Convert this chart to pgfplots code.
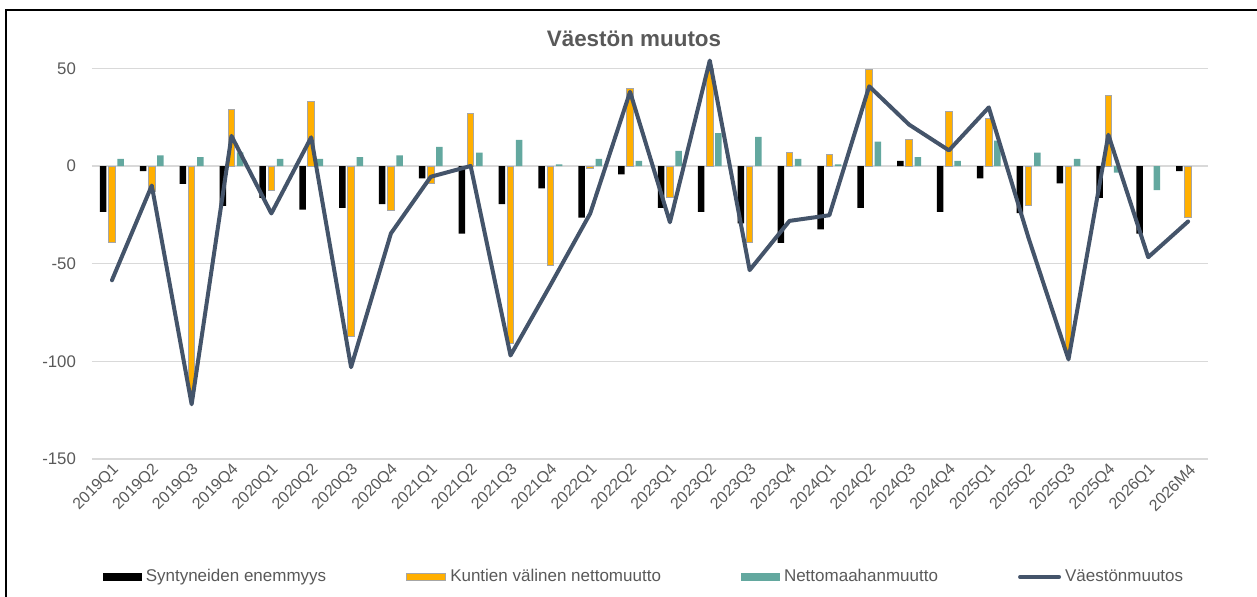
\documentclass[border=0pt]{standalone}
\usepackage{fontspec}
\setmainfont{Liberation Sans}
\usepackage{pgfplots}
\pgfplotsset{compat=1.18}
\definecolor{cBlack}{HTML}{000000}
\definecolor{cOrange}{HTML}{FFAF00}
\definecolor{cTeal}{HTML}{63A89F}
\definecolor{cLine}{HTML}{44546A}
\definecolor{cGrid}{HTML}{D9D9D9}
\definecolor{cText}{HTML}{595959}
\definecolor{cBorder}{HTML}{A6A6A6}
\begin{document}
\begin{tikzpicture}
\useasboundingbox (0,0) rectangle (628.5pt,298.5pt);
\begin{axis}[
  at={(46pt,69pt)}, anchor=south west,
  width=558pt, height=200.2pt, scale only axis,
  xmin=-0.5, xmax=27.5, ymin=-150, ymax=55,
  axis line style={draw=none},
  major tick length=0pt,
  ymajorgrids, grid style={cGrid, line width=0.7pt},
  ytick={-150,-100,-50,0,50},
  yticklabels={-150,-100,-50,0,50},
  xtick={0,...,27},
  xticklabels={2019Q1,2019Q2,2019Q3,2019Q4,2020Q1,2020Q2,2020Q3,2020Q4,2021Q1,2021Q2,2021Q3,2021Q4,2022Q1,2022Q2,2023Q1,2023Q2,2023Q3,2023Q4,2024Q1,2024Q2,2024Q3,2024Q4,2025Q1,2025Q2,2025Q3,2025Q4,2026Q1,2026M4},
  ticklabel style={text=cText},
  yticklabel style={font=\fontsize{8.4}{10}\selectfont, xshift=-4.5pt},
  xticklabel style={font=\fontsize{8}{9.5}\selectfont, rotate=45, anchor=east, xshift=2.2pt, yshift=-4.5pt},
  legend columns=4,
  legend style={at={(0.4955,-0.2947)}, anchor=center, draw=none, fill=none,
    font=\fontsize{8.5}{10}\selectfont, text=cText,
    /tikz/every even column/.append style={column sep=38pt},
    /tikz/every odd column/.append style={column sep=0pt}},
  legend cell align=left,
]
\addplot[ybar, bar width=3.25pt, bar shift=-4.35pt, fill=cBlack, draw=none,
  legend image code/.code={\fill[cBlack] (0pt,-1.9pt) rectangle (19.5pt,1.9pt);}]
coordinates {
(0,-23.5) (1,-2.6) (2,-9.2) (3,-20.4) (4,-16.3) (5,-22.3) (6,-21.4) (7,-19.5)
(8,-6.3) (9,-34.6) (10,-19.5) (11,-11.5) (12,-26.4) (13,-4.3) (14,-21.4) (15,-23.5)
(16,-29.4) (17,-39.4) (18,-32.4) (19,-21.4) (20,2.6) (21,-23.5) (22,-6.3) (23,-24.1)
(24,-8.9) (25,-16.3) (26,-34.6) (27,-2.6)};
\addlegendentry{Syntyneiden enemmyys}
\addplot[ybar, bar width=3.25pt, bar shift=0pt, fill=cOrange, draw=cBorder, line width=0.5pt,
  legend image code/.code={\filldraw[fill=cOrange, draw=cBorder, line width=0.5pt] (0pt,-1.9pt) rectangle (19.5pt,1.9pt);}]
coordinates {
(0,-39.4) (1,-13) (2,-117) (3,28.8) (4,-12.7) (5,33) (6,-87.3) (7,-22.6)
(8,-9.2) (9,26.7) (10,-91) (11,-50.8) (12,-1.2) (13,39.9) (14,-16.1) (15,50)
(16,-39.4) (17,7) (18,5.7) (19,49.3) (20,13.7) (21,27.9) (22,24.1) (23,-20.4)
(24,-95) (25,36) (27,-26.4)};
\addlegendentry{Kuntien välinen nettomuutto}
\addplot[ybar, bar width=3.25pt, bar shift=4.35pt, fill=cTeal, draw=none,
  legend image code/.code={\fill[cTeal] (0pt,-1.9pt) rectangle (19.5pt,1.9pt);}]
coordinates {
(0,3.6) (1,5.5) (2,4.6) (3,7) (4,3.6) (5,3.6) (6,4.6) (7,5.5)
(8,9.8) (9,6.8) (10,13.4) (11,0.9) (12,3.6) (13,2.6) (14,7.7) (15,16.8)
(16,14.9) (17,3.6) (18,0.9) (19,12.5) (20,4.6) (21,2.6) (22,13) (23,6.8)
(24,3.6) (25,-3.4) (26,-12.3)};
\addlegendentry{Nettomaahanmuutto}
\addplot[sharp plot, no markers, cLine, line width=2pt, line join=round, line cap=round,
  legend image code/.code={\draw[cLine, line width=2pt] (0pt,0pt) -- (19.5pt,0pt);}]
coordinates {
(0,-58.5) (1,-10) (2,-122) (3,15.4) (4,-24.3) (5,14.7) (6,-103) (7,-34.5)
(8,-5.5) (9,0) (10,-97) (11,-61) (12,-24.3) (13,38) (14,-28.8) (15,54)
(16,-53.3) (17,-28.1) (18,-25.2) (19,40.8) (20,21.2) (21,8) (22,30) (23,-37)
(24,-99) (25,16) (26,-46.7) (27,-28.4)};
\addlegendentry{Väestönmuutos}
\end{axis}
\node[font=\fontsize{11.2}{13}\selectfont\bfseries, text=cText] at (317pt,279pt) {Väestön muutos};
\draw[line width=1pt, black] (3pt,0pt) -- (3pt,293.5pt) -- (628.5pt,293.5pt);
\end{tikzpicture}
\end{document}
